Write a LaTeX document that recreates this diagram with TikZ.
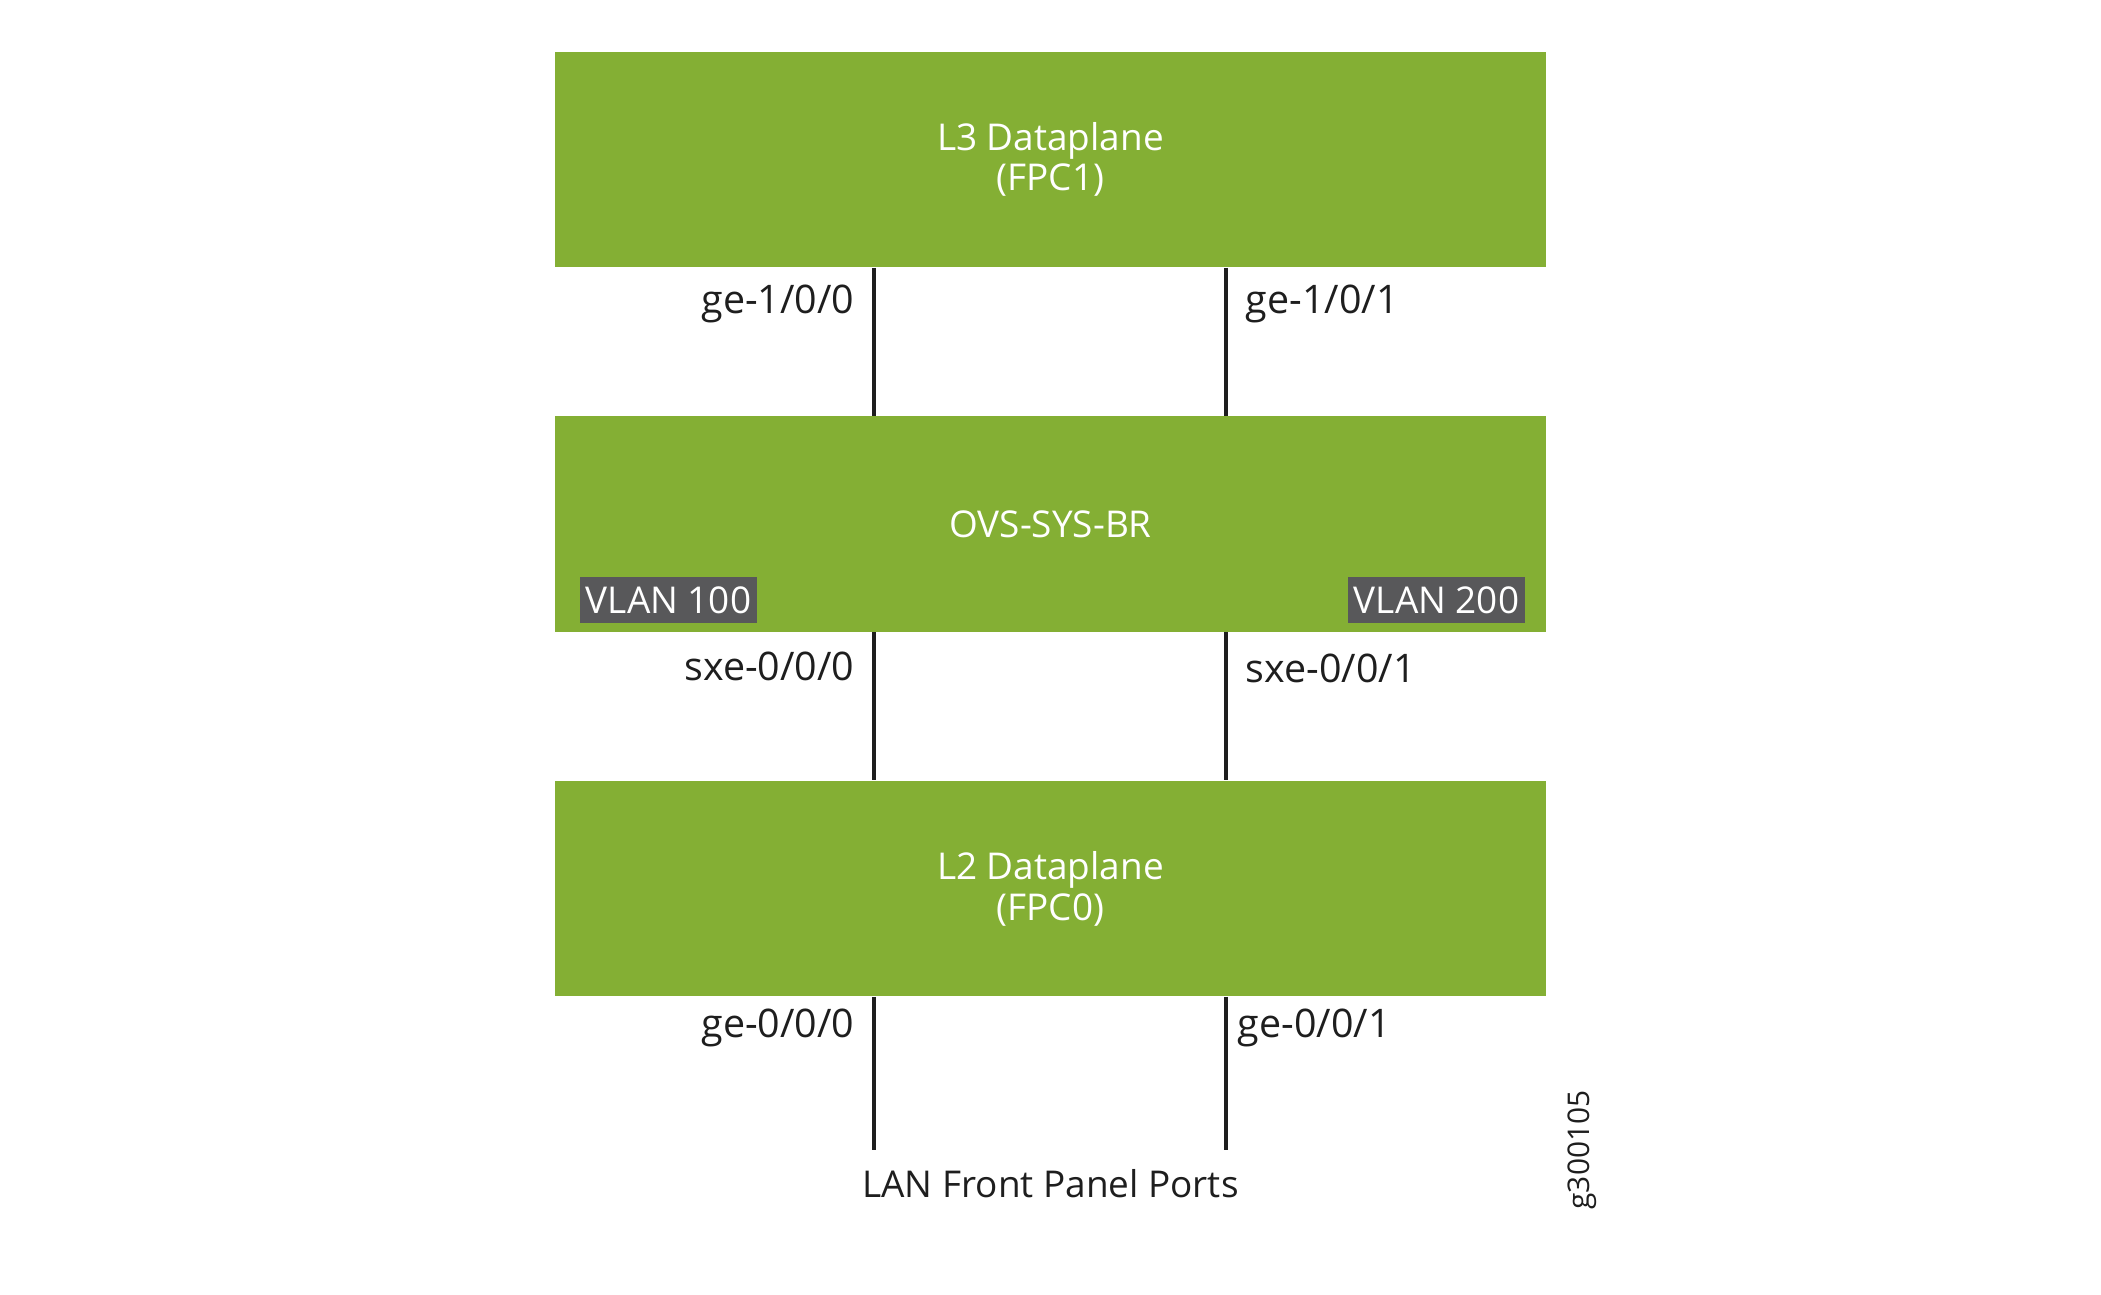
\documentclass[tikz,border=0pt]{standalone}
\usepackage{fontspec}
\setmainfont{Open Sans}
\usetikzlibrary{positioning,calc}
\definecolor{plane}{HTML}{84AF34}
\definecolor{vlangray}{HTML}{58585A}
\definecolor{wire}{HTML}{1E1E1E}

\begin{document}
\begin{tikzpicture}[x=0.01cm,y=-0.01cm,
    plane/.style={fill=plane,minimum width=9.91cm,minimum height=2.15cm,text=white,align=center,font=\fontsize{10.5}{11.6}\selectfont},
    vlan/.style={fill=vlangray,text=white,minimum width=1.77cm,minimum height=0.46cm,inner sep=0pt,font=\fontsize{10.5}{12}\selectfont},
    port/.style={font=\fontsize{11.2}{13}\selectfont,text=wire,inner sep=0pt},
    wire/.style={draw=wire,line width=1.2pt}]
    \useasboundingbox (0,0) rectangle (2101,1295);

    \node[plane] (l3) at (1050.5,159.5) {L3 Dataplane\\(FPC1)};
    \node[plane] (ovs) at (1050.5,524) {OVS-SYS-BR};
    \node[plane] (l2) at (1050.5,888.5) {L2 Dataplane\\(FPC0)};

    \node[vlan] (v100) at (668.5,600) {VLAN 100};
    \node[vlan] (v200) at (1436.5,600) {VLAN 200};

    \coordinate (pa) at (874,1150);
    \coordinate (pb) at (1226,1150);

    % links between the planes
    \draw[wire] (l3.south -| pa) -- (ovs.north -| pa);
    \draw[wire] (l3.south -| pb) -- (ovs.north -| pb);
    \draw[wire] (ovs.south -| pa) -- (l2.north -| pa);
    \draw[wire] (ovs.south -| pb) -- (l2.north -| pb);
    \draw[wire] (l2.south -| pa) -- (pa);
    \draw[wire] (l2.south -| pb) -- (pb);

    \node[port,anchor=east] (g100) at (855,304) {ge-1/0/0};
    \node[port,anchor=west] (g101) at (1245,304) {ge-1/0/1};
    \node[port,anchor=east] (s000) at (855,666) {sxe-0/0/0};
    \node[port,anchor=west] (s001) at (1245,668) {sxe-0/0/1};
    \node[port,anchor=east] (g000) at (855,1028) {ge-0/0/0};
    \node[port,anchor=west] (g001) at (1237,1028) {ge-0/0/1};

    \node[port,font=\fontsize{10.5}{12}\selectfont] (lan) at (1050.5,1184) {LAN Front Panel Ports};
    \node[port,rotate=90,font=\fontsize{8.5}{10}\selectfont] (fig) at (1582,1150) {g300105};
\end{tikzpicture}
\end{document}
